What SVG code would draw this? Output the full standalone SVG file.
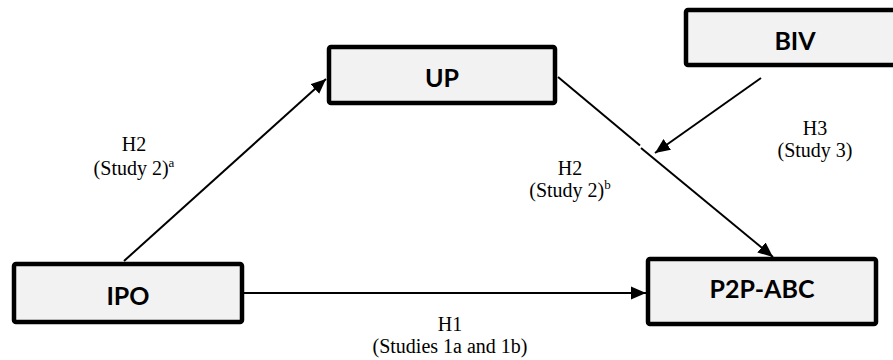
<svg xmlns="http://www.w3.org/2000/svg" width="893" height="360" viewBox="0 0 893 360">
<style>
.box{fill:#f2f2f2;stroke:#000;stroke-width:4.5}
.lbl{font-family:Lato,"Liberation Sans",sans-serif;font-weight:bold;font-size:25px;text-anchor:middle;fill:#000}
.cap{font-family:"Liberation Serif",serif;font-size:20px;text-anchor:middle;fill:#000}
.sup{font-size:13px}
.ln{stroke:#000;stroke-width:2;fill:none}
</style>
<defs>
<marker id="ah" markerUnits="userSpaceOnUse" markerWidth="16" markerHeight="14" refX="15" refY="7" orient="auto">
<path d="M0,0.5 L15,7 L0,13.5 z" fill="#000"/>
</marker>
</defs>
<rect width="893" height="360" fill="#fff"/>
<g id="connectors">
<line class="ln" x1="124" y1="261" x2="326" y2="79" marker-end="url(#ah)"/>
<line class="ln" x1="244" y1="293" x2="646" y2="293" marker-end="url(#ah)"/>
<line class="ln" x1="558" y1="77" x2="640" y2="145.5"/>
<line class="ln" x1="641" y1="148" x2="773" y2="257" marker-end="url(#ah)"/>
<line class="ln" x1="761" y1="78" x2="655" y2="153" marker-end="url(#ah)"/>
</g>
<g id="UP">
<rect class="box" x="329" y="47" width="226" height="56" rx="2"/>
<text class="lbl" x="442" y="87">UP</text>
</g>
<g id="BIV">
<rect class="box" x="686" y="10" width="230" height="55" rx="2"/>
<text class="lbl" x="795" y="50">BIV</text>
</g>
<g id="IPO">
<rect class="box" x="14" y="264" width="228" height="58" rx="2"/>
<text class="lbl" x="128" y="305">IPO</text>
</g>
<g id="P2P-ABC">
<rect class="box" x="648" y="259" width="228" height="65" rx="2"/>
<text class="lbl" x="762" y="298">P2P-ABC</text>
</g>
<g id="labels">
<text class="cap" x="134" y="151">H2</text>
<text class="cap" x="134" y="175">(Study 2)<tspan class="sup" dy="-8">a</tspan></text>
<text class="cap" x="570" y="175">H2</text>
<text class="cap" x="570" y="197">(Study 2)<tspan class="sup" dy="-8">b</tspan></text>
<text class="cap" x="815" y="135">H3</text>
<text class="cap" x="815" y="157">(Study 3)</text>
<text class="cap" x="450" y="331">H1</text>
<text class="cap" x="450" y="353">(Studies 1a and 1b)</text>
</g>
</svg>
